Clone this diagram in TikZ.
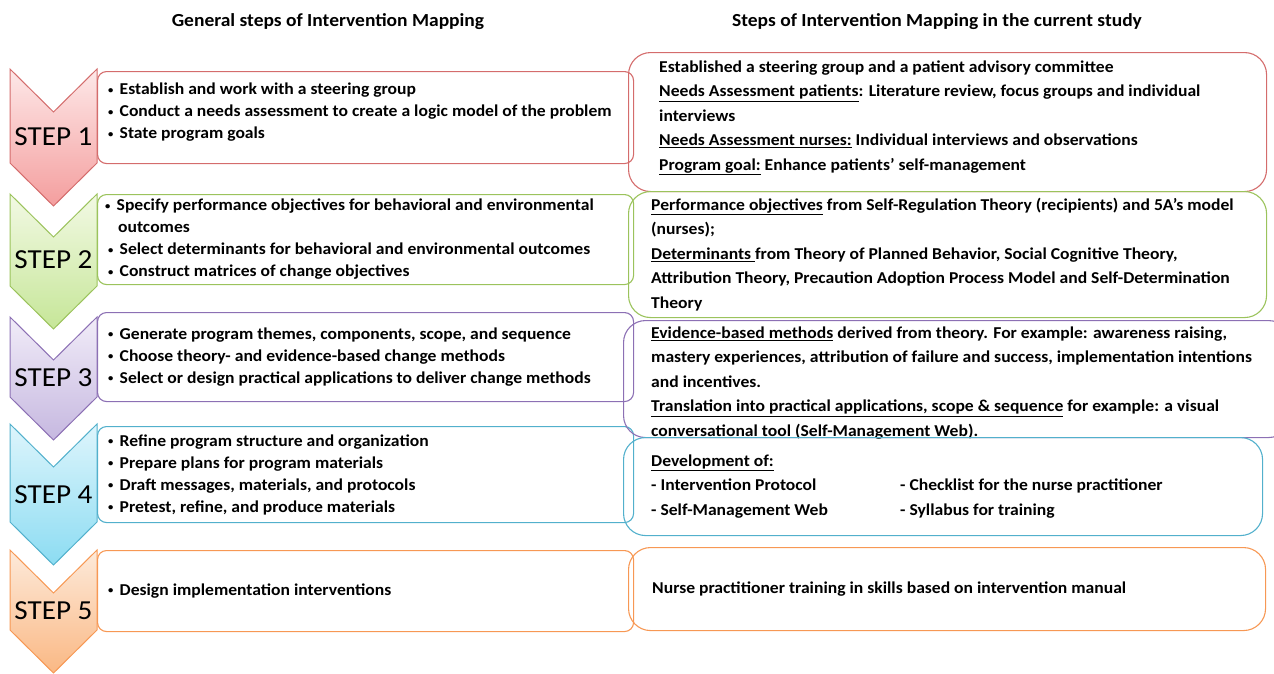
\documentclass[tikz,border=0pt]{standalone}
\usepackage{fontspec}
\setmainfont{Carlito}[FakeStretch=1.06]
\usetikzlibrary{positioning}

% line and fill colours of the five steps
\definecolor{redline}{RGB}{212,108,108}
\definecolor{redtop}{RGB}{253,232,232}
\definecolor{redbot}{RGB}{244,158,158}
\definecolor{greenline}{RGB}{155,195,92}
\definecolor{greentop}{RGB}{242,249,228}
\definecolor{greenbot}{RGB}{198,230,152}
\definecolor{purpleline}{RGB}{140,112,180}
\definecolor{purpletop}{RGB}{241,236,248}
\definecolor{purplebot}{RGB}{198,184,224}
\definecolor{blueline}{RGB}{82,176,204}
\definecolor{bluetop}{RGB}{222,245,252}
\definecolor{bluebot}{RGB}{140,220,242}
\definecolor{orangeline}{RGB}{247,152,84}
\definecolor{orangetop}{RGB}{253,234,218}
\definecolor{orangebot}{RGB}{250,184,132}

% small bullet in front of each general step
\newcommand\bul{\makebox[11.5pt][l]{\raisebox{1.8pt}{\fontsize{10}{10}\selectfont •}}}

\begin{document}
\begin{tikzpicture}[x=1pt,y=-1pt,
    stepbox/.style={draw, rounded corners=9pt, line width=1.1pt, minimum width=536pt, anchor=north west, inner sep=0pt},
    studybox/.style={draw, rounded corners=22pt, line width=1.1pt, anchor=north west, inner sep=0pt},
    steptext/.style={anchor=west, align=left, inner sep=0pt, font=\bfseries\fontsize{16.6}{22}\selectfont},
    studytext/.style={anchor=west, align=left, inner sep=0pt, font=\bfseries\fontsize{16.6}{24.5}\selectfont},
    steplabel/.style={font=\fontsize{27.5}{27.5}\selectfont},
    header/.style={font=\bfseries\fontsize{18.4}{20}\selectfont}]
    \useasboundingbox (0,0) rectangle (1274,673);

    \node[header] (genhead) at (328,22) {General steps of Intervention Mapping};
    \node[header] (studyhead) at (937,22) {Steps of Intervention Mapping in the current study};

    % chevrons
    \foreach \t/\b/\l/\ln/\tp/\bt [count=\i] in
        {69/163/137/redline/redtop/redbot, 194/286/260/greenline/greentop/greenbot,
         317/397/378/purpleline/purpletop/purplebot, 424/522/495/blueline/bluetop/bluebot,
         550/630/611/orangeline/orangetop/orangebot}
    {
        \path[draw=\ln, line width=1pt, top color=\tp, bottom color=\bt]
            (10,\t) -- (53.5,\t+43) -- (97,\t) -- (97,\b) -- (53.5,\b+43) -- (10,\b) -- cycle;
        \node[steplabel] (step\i) at (53.5,\l) {STEP \i};
    }

    % general steps
    \node[stepbox, draw=redline, minimum height=92pt] (gen1) at (97,71) {};
    \node[steptext] (gen1txt) at ([xshift=11pt, yshift=5pt]gen1.west)
        {\bul Establish and work with a steering group\\
         \bul Conduct a needs assessment to create a logic model of the problem\\
         \bul State program goals};

    \node[stepbox, draw=greenline, minimum height=90pt] (gen2) at (97,194) {};
    \node[steptext] (gen2txt) at ([xshift=8pt]gen2.west)
        {\bul Specify performance objectives for behavioral and environmental\\
         \hspace*{13pt}outcomes\\
         \hspace*{3pt}\bul Select determinants for behavioral and environmental outcomes\\
         \hspace*{3pt}\bul Construct matrices of change objectives};

    \node[stepbox, draw=purpleline, minimum height=89pt] (gen3) at (97,312) {};
    \node[steptext] (gen3txt) at ([xshift=11pt]gen3.west)
        {\bul Generate program themes, components, scope, and sequence\\
         \bul Choose theory- and evidence-based change methods\\
         \bul Select or design practical applications to deliver change methods};

    \node[stepbox, draw=blueline, minimum height=96pt] (gen4) at (97,426) {};
    \node[steptext] (gen4txt) at ([xshift=11pt]gen4.west)
        {\bul Refine program structure and organization\\
         \bul Prepare plans for program materials\\
         \bul Draft messages, materials, and protocols\\
         \bul Pretest, refine, and produce materials};

    \node[stepbox, draw=orangeline, minimum height=81pt] (gen5) at (97,550) {};
    \node[steptext] (gen5txt) at ([xshift=11pt]gen5.west)
        {\bul Design implementation interventions};

    % current study
    \node[studybox, draw=redline, minimum width=638pt, minimum height=139pt] (study1) at (628,52) {};
    \node[studytext] (study1txt) at ([xshift=31pt, yshift=4pt]study1.west)
        {Established a steering group and a patient advisory committee\\
         \underline{Needs Assessment patients}: Literature review, focus groups and individual\\
         interviews\\
         \underline{Needs Assessment nurses:} Individual interviews and observations\\
         \underline{Program goal:} Enhance patients’ self-management};

    \node[studybox, draw=greenline, minimum width=638pt, minimum height=126pt] (study2) at (628,191) {};
    \node[studytext] (study2txt) at ([xshift=23pt]study2.west)
        {\underline{Performance objectives} from Self-Regulation Theory (recipients) and 5A’s model\\
         (nurses);\\
         \underline{Determinants }from Theory of Planned Behavior, Social Cognitive Theory,\\
         Attribution Theory, Precaution Adoption Process Model and Self-Determination\\
         Theory};

    \node[studybox, draw=purpleline, minimum width=667pt, minimum height=117pt] (study3) at (623,320) {};
    \node[studytext] (study3txt) at ([xshift=28pt, yshift=-4pt]study3.west)
        {\underline{Evidence-based methods} derived from theory. For example: awareness raising,\\
         mastery experiences, attribution of failure and success, implementation intentions\\
         and incentives.\\
         \underline{Translation into practical applications, scope \& sequence} for example: a visual\\
         conversational tool (Self-Management Web).};

    \node[studybox, draw=blueline, minimum width=639pt, minimum height=98pt] (study4) at (623,437) {};
    \node[studytext] (study4txt) at ([xshift=28pt]study4.west)
        {\underline{Development of:}\\
         \makebox[249pt][l]{- Intervention Protocol}- Checklist for the nurse practitioner\\
         \makebox[249pt][l]{- Self-Management Web}- Syllabus for training};

    \node[studybox, draw=orangeline, minimum width=637pt, minimum height=83pt] (study5) at (628,547) {};
    \node[studytext] (study5txt) at ([xshift=24pt]study5.west)
        {Nurse practitioner training in skills based on intervention manual};
\end{tikzpicture}
\end{document}
